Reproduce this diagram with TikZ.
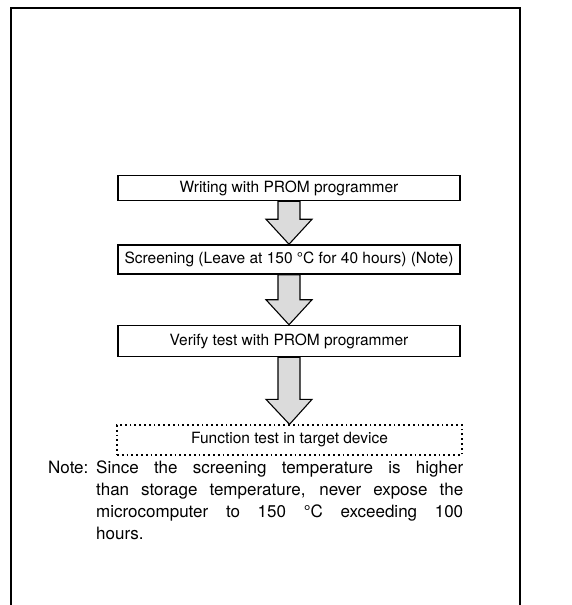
\documentclass[tikz,border=0pt]{standalone}
\usepackage{fontspec}
\setmainfont{TeX Gyre Heros}
\usetikzlibrary{calc, math}

\tikzset{
  stepbox/.style={draw, line width=1.5pt, minimum width=342pt, inner sep=0pt,
    font=\fontsize{15.5}{18}\selectfont},
  targetbox/.style={stepbox, line width=1.3pt, dash pattern=on 1.8pt off 3pt, minimum width=345pt},
  flowarrow/.style={draw, line width=1.1pt, fill=gray!28, line join=miter},
}

% shaded block arrow from box #1 down to box #2
\newcommand{\flowarrow}[2]{%
  \draw[flowarrow] let \p1=(#1.south), \p2=(#2.north) in
    (\x1-11pt,\y1) -- (\x1-11pt,\y2+25pt) -- (\x1-23pt,\y2+25pt) -- (\x2,\y2)
    -- (\x1+23pt,\y2+25pt) -- (\x1+11pt,\y2+25pt) -- (\x1+11pt,\y1) -- cycle;}

\begin{document}
\begin{tikzpicture}[x=1pt,y=1pt]
\useasboundingbox (0,0) rectangle (571,605);

%%%%%%%%%%   frame
\draw[line width=2pt] (11,0) -- (11,597) -- (520,597) -- (520,0);

%%%%%%%%%%   steps
\node[stepbox, minimum height=25pt] (write) at (289,417) {Writing with PROM programmer};
\node[stepbox, minimum height=29pt] (screen) at (289,345.5) {Screening (Leave at 150 °C for 40 hours) (Note)};
\node[stepbox, minimum height=31pt] (verify) at (289,264) {Verify test with PROM programmer};
\node[targetbox, minimum height=30pt] (target) at (289.5,165) {Function test in target device};

\flowarrow{write}{screen}
\flowarrow{screen}{verify}
\flowarrow{verify}{target}

%%%%%%%%%%   note
\node[anchor=north west, inner sep=0pt, font=\fontsize{17}{22}\selectfont] (note) at (48,147)
  {\begin{tabular}{@{}p{48pt}@{}p{367pt}@{}}
   Note: & Since the screening temperature is higher\linebreak
   than storage temperature, never expose the\linebreak
   microcomputer to 150 °C exceeding 100\linebreak
   hours.
   \end{tabular}};
\end{tikzpicture}
\end{document}
